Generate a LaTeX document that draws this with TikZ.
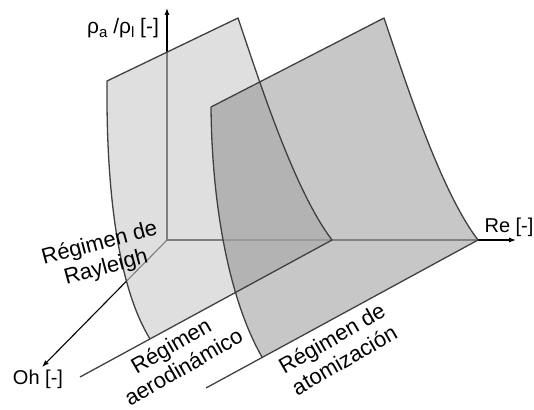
\documentclass[tikz,border=0pt]{standalone}
\usepackage{fontspec}
\setmainfont{Liberation Sans}
\usetikzlibrary{arrows.meta}
\begin{document}
\begin{tikzpicture}[x=1pt,y=-1pt,
  axis/.style={line width=1.1pt, -{Latex[length=7pt,width=5pt]}},
  edge/.style={draw=black!75, line width=1.3pt, line join=round},
  surfA/.style={fill=black!20, fill opacity=0.62},
  surfB/.style={fill=black!30, fill opacity=0.72},
  regime/.style={font=\fontsize{22}{25}\selectfont, align=center, inner sep=0pt},
  axlabel/.style={font=\fontsize{20}{22}\selectfont, inner sep=0pt}]
\useasboundingbox (0,0) rectangle (534,409);
% axes
\coordinate (O) at (167,240);
\coordinate (Ytip) at (167,8);
\coordinate (Xtip) at (516,240);
\coordinate (Ztip) at (42,367);
\draw[axis] (O) -- (Ytip);
\draw[axis] (O) -- (Xtip);
\draw[axis] (O) -- (Ztip);
% surface corners
\coordinate (A1) at (107,81);
\coordinate (A2) at (238,18);
\coordinate (A3) at (332,240);
\coordinate (A4) at (150,339);
\coordinate (A5) at (80,377);
\coordinate (B1) at (211,107);
\coordinate (B2) at (384,18);
\coordinate (B3) at (478,240);
\coordinate (B4) at (262,357);
\coordinate (B5) at (206,388);
% fills
\fill[surfA] (A1) -- (A2) .. controls (259,80) and (294,190) .. (A3) -- (A4) .. controls (120,290) and (106,200) .. (A1) -- cycle;
\fill[surfB] (B1) -- (B2) .. controls (405,80) and (440,190) .. (B3) -- (B4) .. controls (232,305) and (212,215) .. (B1) -- cycle;
\begin{scope}
\clip (A1) -- (A2) .. controls (259,80) and (294,190) .. (A3) -- (A4) .. controls (120,290) and (106,200) .. (A1) -- cycle;
\fill[black, fill opacity=0.06] (B1) -- (B2) .. controls (405,80) and (440,190) .. (B3) -- (B4) .. controls (232,305) and (212,215) .. (B1) -- cycle;
\end{scope}
% edges
\draw[edge] (A4) .. controls (120,290) and (106,200) .. (A1) -- (A2) .. controls (259,80) and (294,190) .. (A3) -- (A5);
\draw[edge] (B4) .. controls (232,305) and (212,215) .. (B1) -- (B2) .. controls (405,80) and (440,190) .. (B3) -- (B5);
% labels
\node[axlabel, font=\fontsize{21}{22}\selectfont] (ylab) at (123,28) {ρ\raisebox{-0.2em}{\fontsize{15}{15}\selectfont a} /ρ\raisebox{-0.2em}{\fontsize{15}{15}\selectfont l} [-]};
\node[axlabel] (xlab) at (509,227) {Re [-]};
\node[axlabel] (zlab) at (38,379) {Oh [-]};
\node[regime, rotate=15] (ray) at (103,256) {Régimen de\\Rayleigh};
\node[regime, rotate=30] (aero) at (177,356) {Régimen\\aerodinámico};
\node[regime, rotate=30] (atom) at (338,349) {Régimen de\\atomización};
\end{tikzpicture}
\end{document}
